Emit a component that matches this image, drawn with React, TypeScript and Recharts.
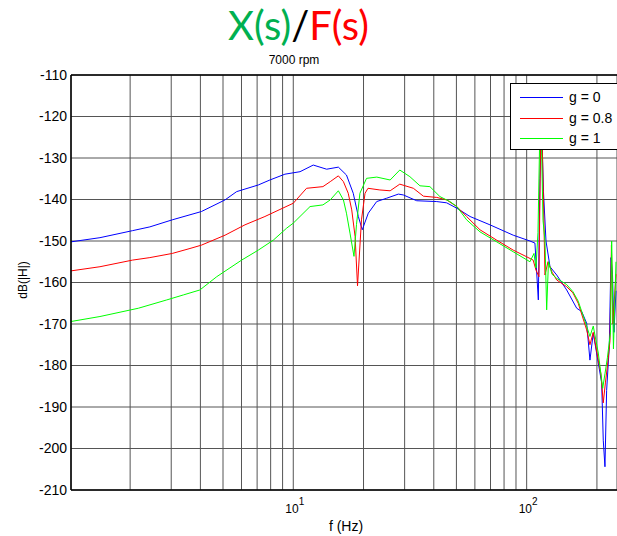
import React from 'react';
import { LineChart, Line, XAxis, YAxis, CartesianGrid, ReferenceLine } from 'recharts';

// g = 0 (blue)
const F0 = [1.116, 1.485, 2.05, 2.43, 3.03, 4.04, 5.1, 5.72, 7.08, 7.94, 9.21, 10.69, 12.18, 13.9, 15.6, 16.9, 18.07, 19.0, 19.75, 20.96, 22.77, 25.1, 28.2, 29.6, 33.8, 41.2, 45.4, 50.2, 57.2, 69.6, 87.6, 103.3, 108.5, 112.2, 114, 115.9, 118, 121, 125.9, 134.5, 148.4, 163.8, 172.1, 180.7, 186.7, 192.9, 202.7, 209.6, 212.9, 216.5, 220.1, 225.9, 229.7, 233.2, 236.6, 241.4];
const DB0 = [-150.2, -149.2, -147.5, -146.6, -144.9, -142.9, -140.1, -138.1, -136.5, -135.3, -133.9, -133.3, -131.7, -132.7, -132.2, -134.1, -138.5, -144.1, -147.3, -143.3, -140.5, -139.7, -138.7, -138.9, -140.3, -140.5, -140.8, -142.1, -144.1, -146.1, -148.6, -150, -150.5, -164.2, -135, -122, -138, -150, -156.2, -158.2, -161.8, -166.2, -167, -169.8, -178.7, -172.2, -179.4, -184.2, -198, -204.4, -186, -175.5, -154, -158, -172, -162];

// g = 0.8 (red)
const F1 = [1.116, 1.485, 2.05, 2.43, 3.03, 3.61, 4.04, 5.1, 6.21, 7.56, 8.77, 10, 11.4, 13.4, 14.4, 15.6, 16.4, 17.2, 17.8, 18.4, 18.85, 19.6, 20.3, 20.9, 23.5, 26.0, 28.6, 32.7, 36.1, 41.2, 45.4, 50.2, 55.3, 63.1, 74.4, 87.6, 100, 106.6, 109.6, 112.9, 114.6, 116.3, 118, 119.8, 123.4, 128.4, 134.5, 148.4, 157.8, 166.3, 180.7, 186.7, 192.9, 202.7, 208, 212.9, 217.6, 221.9, 227.5, 230.8, 234, 241.4];
const DB1 = [-157.2, -156.2, -154.6, -154, -153, -151.8, -151, -148.6, -146.1, -144.1, -142.4, -140.9, -137.3, -136.9, -135.7, -134.3, -135.7, -138.5, -142.5, -148.9, -160.8, -144.9, -138.5, -137.3, -137.7, -137.9, -136.3, -137.3, -139.2, -139.5, -140.1, -141.7, -144.1, -147.3, -149.8, -152.2, -153.8, -154.6, -157, -158.6, -128, -124, -140, -158.2, -155, -157.5, -159.4, -161, -162.5, -165, -171.4, -175, -172, -178.7, -182, -189, -184, -180, -174, -151, -170, -158];

// g = 1 (green)
const F2 = [1.116, 1.485, 2.17, 2.87, 3.38, 3.98, 4.7, 6.01, 7.08, 8.21, 9.37, 10, 11.8, 13.4, 14.4, 15.6, 16.4, 16.9, 17.5, 18.2, 18.66, 19.3, 20.6, 22.8, 26.0, 28.6, 31.6, 34.9, 38.5, 42.5, 46.9, 50.2, 55.3, 63.1, 74.4, 87.6, 103.3, 107.5, 109.6, 111.8, 114, 115.7, 117.5, 119.8, 121.8, 124, 128.4, 134.5, 148.4, 157.8, 166.3, 180.7, 186.7, 192.9, 202.7, 211.7, 216.5, 221.9, 228.6, 231.3, 235.4, 241.4];
const DB2 = [-169.4, -168.2, -166.2, -164.2, -163, -161.8, -158.6, -154.6, -152.2, -149.8, -146.9, -145.7, -141.7, -141.3, -140.1, -137.9, -140.1, -143.3, -148.1, -153.7, -146, -138.5, -134.9, -134.6, -135.3, -132.9, -134.5, -136.7, -136.9, -139.3, -140.5, -141.7, -144.9, -147.8, -150.2, -152.6, -155, -153, -156.5, -148, -122, -126, -145, -150, -166.6, -155, -158, -159, -160.5, -162.2, -164.5, -170.5, -173, -170.5, -177, -185.5, -182, -178, -172, -150, -176, -155];

const X_TICKS = [2, 3, 4, 5, 6, 7, 8, 9, 10, 20, 30, 40, 50, 60, 70, 80, 90, 100, 200];
const Y_TICKS = [-210, -200, -190, -180, -170, -160, -150, -140, -130, -120, -110];
const SERIES = [
  { name: 'g = 0', color: '#0000ff' },
  { name: 'g = 0.8', color: '#ff0000' },
  { name: 'g = 1', color: '#00ff00' },
];

const FONT = '"Liberation Sans", Arial, sans-serif';

const toRows = (f: number[], db: number[]) => f.map((x, i) => ({ f: x, v: db[i] }));

const XTick = ({ x, y, payload }: any) => {
  const v = payload.value;
  if (v !== 10 && v !== 100) return <g />;
  return (
    <text x={x - 8} y={y + 23} fontSize={12} fill="#000" fontFamily={FONT}>
      10
      <tspan dy={-8} fontSize={10}>{v === 10 ? '1' : '2'}</tspan>
    </text>
  );
};

export default function App() {
  const rows = [toRows(F0, DB0), toRows(F1, DB1), toRows(F2, DB2)];
  return (
    <div style={{ position: 'fixed', left: 0, top: 0, width: 617, height: 536, overflow: 'hidden', background: '#fff' }}>
      <LineChart width={617} height={536} margin={{ top: 75, right: 0, bottom: 16, left: 11 }}>
        <CartesianGrid stroke="#555" />
        <XAxis
          dataKey="f"
          type="number"
          scale="log"
          domain={[1.116, 243.8]}
          allowDataOverflow
          ticks={X_TICKS}
          interval={0}
          height={30}
          tick={<XTick />}
          tickSize={0}
          tickMargin={0}
          tickLine={false}
          axisLine={{ stroke: '#000', strokeWidth: 1.5 }}
        />
        <YAxis
          type="number"
          domain={[-210, -110]}
          ticks={Y_TICKS}
          width={60}
          tickSize={0}
          tickMargin={4}
          tickLine={false}
          tick={{ fill: '#000', fontSize: 14, fontFamily: FONT }}
          axisLine={{ stroke: '#000', strokeWidth: 1.5 }}
        />
        <ReferenceLine y={-110} stroke="#000" strokeWidth={1.5} />
        {SERIES.map((s, i) => (
          <Line
            key={s.name}
            data={rows[i]}
            dataKey="v"
            name={s.name}
            type="linear"
            stroke={s.color}
            strokeWidth={1}
            dot={false}
            isAnimationActive={false}
          />
        ))}
      </LineChart>

      <svg width={617} height={536} style={{ position: 'absolute', left: 0, top: 0, pointerEvents: 'none' }}>
        <text x={298.5} y={40} fontSize={40} textAnchor="middle" fontFamily="Lato, 'Open Sans', sans-serif">
          <tspan fill="#00b050">X(s)</tspan>
          <tspan fill="#000">/</tspan>
          <tspan fill="#ff0000">F(s)</tspan>
        </text>
        <text x={294} y={64} fontSize={12} textAnchor="middle" fontFamily={FONT} fill="#000">7000 rpm</text>
        <text x={346} y={531} fontSize={14} textAnchor="middle" fontFamily={FONT} fill="#000">f (Hz)</text>
        <text
          x={23}
          y={280}
          fontSize={12}
          textAnchor="middle"
          dominantBaseline="central"
          fontFamily={FONT}
          fill="#000"
          transform="rotate(-90 23 280)"
        >
          dB(|H|)
        </text>
      </svg>

      <div
        style={{
          position: 'absolute', left: 510, top: 83, width: 130, height: 65,
          border: '1px solid #000', background: '#fff', fontFamily: FONT, fontSize: 14,
        }}
      >
        {SERIES.map((s, i) => (
          <div key={s.name} style={{ position: 'absolute', left: 0, top: 3 + i * 20.7, height: 20, width: 130 }}>
            <div style={{ position: 'absolute', left: 9, top: 10, width: 43, height: 1, background: s.color }} />
            <div style={{ position: 'absolute', left: 58, top: 1, lineHeight: '18px', color: '#000' }}>{s.name}</div>
          </div>
        ))}
      </div>
    </div>
  );
}
